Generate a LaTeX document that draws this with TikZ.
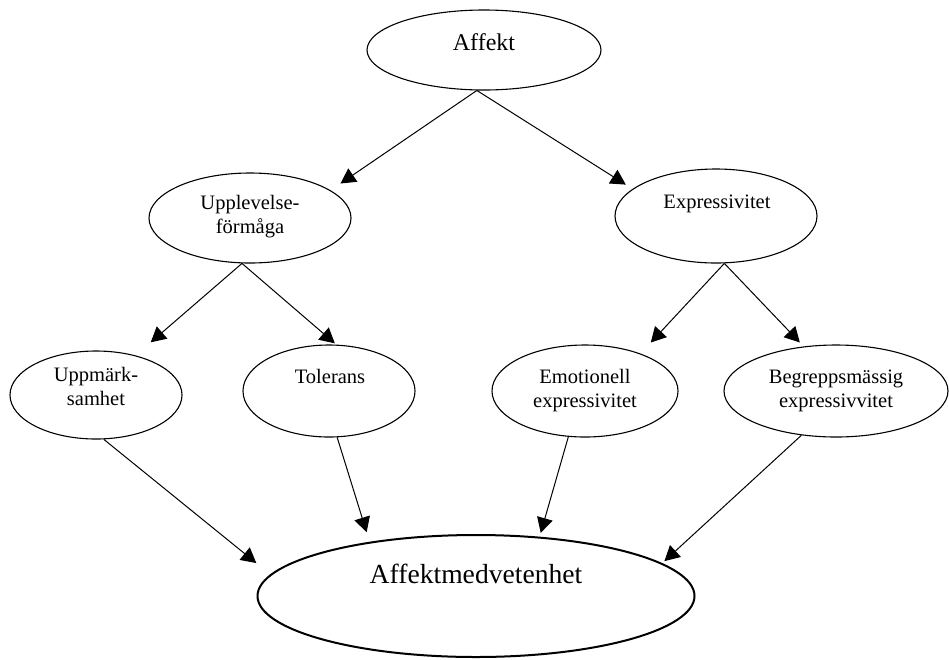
\documentclass[tikz,border=0pt]{standalone}
\usepackage{fontspec}
\setmainfont{Liberation Serif}
\usetikzlibrary{arrows.meta,shapes.geometric}

\begin{document}
\begin{tikzpicture}[x=1pt, y=-1pt,
    ell/.style={draw, ellipse, line width=1.1pt, inner sep=0pt},
    bigell/.style={draw, ellipse, line width=2pt, inner sep=0pt, minimum width=437, minimum height=122},
    lbl/.style={anchor=base, align=center, inner sep=0pt, font=\fontsize{20.5}{24}\selectfont},
    arr/.style={-{Triangle[length=15pt, width=16pt]}, line width=1pt}
]
\useasboundingbox (0,0) rectangle (949,659);

% ellipses
\node[ell, minimum width=234, minimum height=80] (affekt) at (484,50) {};
\node[ell, minimum width=202, minimum height=90] (upl) at (250,218) {};
\node[ell, minimum width=202, minimum height=94] (expr) at (716,216) {};
\node[ell, minimum width=172, minimum height=88] (upm) at (96,395) {};
\node[ell, minimum width=172, minimum height=92] (tol) at (329,391) {};
\node[ell, minimum width=186, minimum height=92] (emo) at (585,391) {};
\node[ell, minimum width=224, minimum height=92] (beg) at (836,391) {};
\node[bigell] (amv) at (476,596) {};

% texts (base = last line)
\node[lbl, font=\fontsize{24}{28}\selectfont] (affekt-txt) at (484,50) {Affekt};
\node[lbl] (upl-txt) at (250,233) {Upplevelse-\\förmåga};
\node[lbl] (expr-txt) at (717,208) {Expressivitet};
\node[lbl] (upm-txt) at (96,405) {Uppmärk-\\samhet};
\node[lbl] (tol-txt) at (330,383) {Tolerans};
\node[lbl] (emo-txt) at (585,407) {Emotionell\\expressivitet};
\node[lbl] (beg-txt) at (836,407) {Begreppsmässig\\expressivvitet};
\node[lbl, font=\fontsize{27.6}{32}\selectfont] (amv-txt) at (476,583) {Affektmedvetenhet};

% connectors
\draw[arr, shorten >=12pt] (affekt.-100) -- (upl.19);
\draw[arr, shorten >=8pt] (affekt.-100) -- (expr.162);
\draw[arr, shorten >=20pt] (upl.-100) -- (upm.45);
\draw[arr, shorten >=2pt] (upl.-100) -- (tol.81);
\draw[arr, shorten >=15pt] (expr.-80) -- (emo.34);
\draw[arr, shorten >=5.5pt] (expr.-80) -- (beg.126);
\draw[arr, shorten >=18pt] (upm.-80) -- (amv.174);
\draw[arr, shorten >=10pt] (tol.-80) -- (amv.153);
\draw[arr, shorten >=4pt] (emo.-110) -- (amv.43);
\draw[arr, shorten >=3pt] (beg.-128) -- (amv.10);
\end{tikzpicture}
\end{document}
